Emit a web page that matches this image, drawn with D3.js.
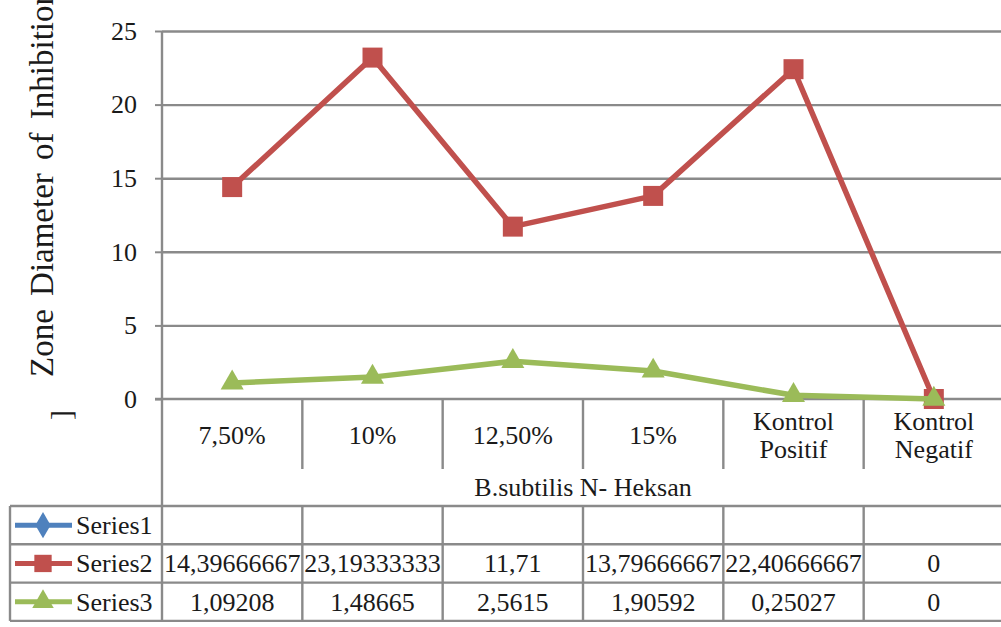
<!DOCTYPE html>
<html>
<head>
<meta charset="utf-8">
<script src="https://cdn.jsdelivr.net/npm/d3@7"></script>
<style>
  html, body { margin: 0; padding: 0; background: #ffffff; }
  svg { display: block; }
</style>
</head>
<body>
<svg id="chart" width="1001" height="627"></svg>
<script>
// Inhibition zone diameters (mm) per treatment
const categories = ["7,50%", "10%", "12,50%", "15%", "Kontrol Positif", "Kontrol Negatif"];
const groupLabel = "B.subtilis N- Heksan";
const seriesNames = ["Series1", "Series2", "Series3"];
const series1 = [null, null, null, null, null, null];
const series2 = [14.39666667, 23.19333333, 11.71, 13.79666667, 22.40666667, 0];
const series3 = [1.09208, 1.48665, 2.5615, 1.90592, 0.25027, 0];
const yTicks = [0, 5, 10, 15, 20, 25];
const yTitle = "Zone Diameter of Inhibition";

const colors = ["#4F81BD", "#C0504D", "#9BBB59"];
const markers = [d3.symbolDiamond, d3.symbolSquare, d3.symbolTriangle];
const seriesValues = [series1, series2, series3];

const FONT = "Liberation Serif";
const INK = "#1a1a1a";
const svg = d3.select("#chart").style("font-family", FONT);
const grey = "#8a8a8a";

const plotLeft = 162, plotRight = 1004, plotTop = 31, plotBottom = 399;
const catBottom = 469, tableTop = 506, rowH = 38.3, tableLeft = 10;

const x = d3.scaleBand().domain(categories).range([plotLeft, plotRight]).paddingInner(0).paddingOuter(0);
const y = d3.scaleLinear().domain([0, 25]).range([plotBottom, plotTop]);

function label(sel) {
  return sel.append("text").style("font-family", FONT).attr("fill", INK).attr("font-size", 26);
}

// Horizontal gridlines
const grid = svg.append("g").attr("transform", `translate(${plotLeft},0)`)
  .call(d3.axisLeft(y).tickValues(yTicks.filter(t => t > 0)).tickSize(-(plotRight - plotLeft)).tickFormat(""));
grid.select(".domain").remove();
grid.selectAll(".tick line").attr("stroke", grey).attr("stroke-width", 2.4);

// Value axis with labels
const yAxis = svg.append("g").attr("transform", `translate(${plotLeft},0)`)
  .call(d3.axisLeft(y).tickValues(yTicks).tickSize(7).tickPadding(18).tickFormat(d3.format("d")));
yAxis.attr("font-family", null);
yAxis.select(".domain").remove();
yAxis.selectAll(".tick line").attr("stroke", grey).attr("stroke-width", 2);
yAxis.selectAll(".tick text").attr("font-size", 26).style("font-family", FONT).attr("fill", INK);

// Axis frame lines
svg.append("line").attr("x1", plotLeft - 7).attr("x2", plotRight).attr("y1", plotBottom).attr("y2", plotBottom)
  .attr("stroke", grey).attr("stroke-width", 2.4);
svg.append("line").attr("x1", plotLeft).attr("x2", plotLeft).attr("y1", plotTop).attr("y2", tableTop + rowH * 3)
  .attr("stroke", grey).attr("stroke-width", 2.4);

// Category dividers under the axis
categories.forEach((c, i) => {
  if (i === 0) return;
  svg.append("line").attr("x1", x(c)).attr("x2", x(c)).attr("y1", plotBottom).attr("y2", catBottom)
    .attr("stroke", grey).attr("stroke-width", 2.4);
});

// Category labels
const catLabels = svg.append("g");
categories.forEach(c => {
  const lines = c.includes("Kontrol") ? c.split(" ") : [c];
  const cx = x(c) + x.bandwidth() / 2;
  const t = label(catLabels).attr("x", cx).attr("text-anchor", "middle");
  if (lines.length === 1) {
    t.attr("y", 444).text(lines[0]);
  } else {
    lines.forEach((ln, k) => t.append("tspan").attr("x", cx).attr("y", 430 + k * 28).text(ln));
  }
});

// Group label
label(svg).attr("x", (plotLeft + plotRight) / 2).attr("y", 496)
  .attr("text-anchor", "middle").text(groupLabel);

// Y axis title
label(svg).attr("transform", "translate(53,377) rotate(-90)")
  .attr("font-size", 33).attr("word-spacing", 5).text(yTitle);
label(svg).attr("transform", "translate(71,420) rotate(-90)")
  .attr("font-size", 30).text("]");

// Lines and markers
const line = d3.line()
  .defined(d => d != null)
  .x((d, i) => x(categories[i]) + x.bandwidth() / 2)
  .y(d => y(d));

seriesValues.forEach((vals, s) => {
  const g = svg.append("g");
  g.append("path").datum(vals).attr("d", line)
    .attr("fill", "none").attr("stroke", colors[s]).attr("stroke-width", 5.5)
    .attr("stroke-linejoin", "round");
  g.selectAll("path.mk").data(vals.map((v, i) => ({ v, i })).filter(d => d.v != null))
    .join("path").attr("class", "mk")
    .attr("transform", d => `translate(${x(categories[d.i]) + x.bandwidth() / 2},${y(d.v)})`)
    .attr("d", d3.symbol().type(markers[s]).size(s === 2 ? 230 : 400))
    .attr("fill", colors[s]);
});

// Data table
const fmt = v => v == null ? "" : d3.format(".10~g")(v).replace(".", ",");
const table = svg.append("g");
for (let r = 0; r <= 3; r++) {
  table.append("line").attr("x1", tableLeft).attr("x2", plotRight)
    .attr("y1", tableTop + r * rowH).attr("y2", tableTop + r * rowH)
    .attr("stroke", grey).attr("stroke-width", 2.4);
}
table.append("line").attr("x1", tableLeft).attr("x2", tableLeft)
  .attr("y1", tableTop).attr("y2", tableTop + rowH * 3).attr("stroke", grey).attr("stroke-width", 2.4);
categories.forEach((c, i) => {
  if (i === 0) return;
  table.append("line").attr("x1", x(c)).attr("x2", x(c))
    .attr("y1", tableTop).attr("y2", tableTop + rowH * 3).attr("stroke", grey).attr("stroke-width", 2.4);
});

seriesNames.forEach((name, s) => {
  const cy = tableTop + rowH * s + rowH / 2;
  table.append("line").attr("x1", 15).attr("x2", 72).attr("y1", cy).attr("y2", cy)
    .attr("stroke", colors[s]).attr("stroke-width", 5);
  table.append("path").attr("transform", `translate(43,${cy})`)
    .attr("d", d3.symbol().type(markers[s]).size(s === 1 ? 300 : 200)).attr("fill", colors[s]);
  label(table).attr("x", 76).attr("y", cy + 9).text(name);
  seriesValues[s].forEach((v, i) => {
    label(table).attr("x", x(categories[i]) + x.bandwidth() / 2).attr("y", cy + 9)
      .attr("text-anchor", "middle").text(fmt(v));
  });
});
</script>
</body>
</html>
